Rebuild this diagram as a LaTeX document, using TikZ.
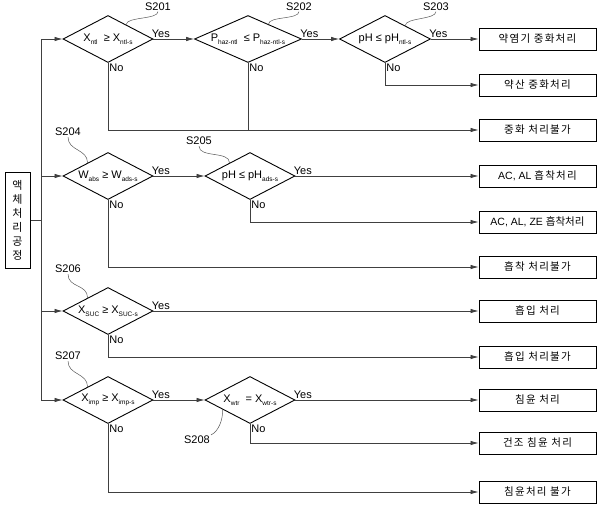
\documentclass[tikz,border=0pt]{standalone}
\usepackage{fontspec}
\setmainfont{Liberation Sans}
\newfontfamily\kr{Noto Sans CJK KR}
\newfontfamily\krwide[LetterSpace=12]{Noto Sans CJK KR}
\usetikzlibrary{shapes.geometric,arrows.meta,calc}
\newcommand{\lowtxt}[1]{\raisebox{-0.45ex}{\fontsize{6.5}{7}\selectfont #1}}
\newcommand{\dtxt}[1]{\makebox[0pt]{#1}}
\tikzset{
	decision/.style = {diamond, draw=black, line width=0.9pt, inner sep=0pt, minimum width=90pt, minimum height=47pt, font=\fontsize{11}{12}\selectfont},
	result/.style = {rectangle, draw=black, line width=1pt, minimum width=117pt, minimum height=22pt, inner sep=0pt, font=\fontsize{10.5}{12}\selectfont},
	process/.style = {rectangle, draw=black, line width=1pt, minimum width=25pt, minimum height=96pt, inner sep=0pt, align=center, font=\fontsize{11}{14}\selectfont\kr},
	flow/.style = {draw=black!75, line width=0.7pt, -{Latex[length=8pt,width=4.5pt]}},
	line/.style = {draw=black!75, line width=0.7pt},
	yeslbl/.style = {anchor=south west, inner sep=1pt, xshift=-3pt, font=\fontsize{11}{12}\selectfont},
	nolbl/.style = {anchor=north west, inner sep=1pt, font=\fontsize{11}{12}\selectfont},
	tagtxt/.style = {inner sep=1pt, font=\fontsize{11}{12}\selectfont},
	tagline/.style = {draw=black!65, line width=0.5pt}
}

\begin{document}
\begin{tikzpicture}[x=1pt, y=-1pt]
\useasboundingbox (0,0) rectangle (605,514);

% left process box and trunk
\node [process] (proc) at (17.5,220) {액\\체\\처\\리\\공\\정};
\coordinate (trunk) at (41,220);
\draw [line] (proc.east) -- (trunk);

% decisions
\node [decision] (d1) at (108,39) {\dtxt{X\lowtxt{ntl} \ ≥ X\lowtxt{ntl-s}}};
\node [decision, minimum width=107pt] (d2) at (248,39) {\dtxt{P\lowtxt{haz-ntl} \ ≤ P\lowtxt{haz-ntl-s}}};
\node [decision, minimum width=91pt] (d3) at (385,39) {\dtxt{pH ≤ pH\lowtxt{ntl-s}}};
\node [decision] (d4) at (108,176) {\dtxt{W\lowtxt{abs} ≥ W\lowtxt{ads-s}}};
\node [decision] (d5) at (250,176) {\dtxt{pH ≤ pH\lowtxt{ads-s}}};
\node [decision] (d6) at (108,311) {\dtxt{X\lowtxt{SUC} ≥ X\lowtxt{SUC-s}}};
\node [decision] (d7) at (108,400) {\dtxt{X\lowtxt{imp} ≥ X\lowtxt{imp-s}}};
\node [decision] (d8) at (250,400) {\dtxt{X\lowtxt{wtr} \ = X\lowtxt{wtr-s}}};

% results
\node [result] (r1) at (537.5,39) {\krwide 약염기 중화처리};
\node [result] (r2) at (537.5,85) {\krwide 약산 중화처리};
\node [result] (r3) at (537.5,130) {\krwide 중화 처리불가};
\node [result] (r4) at (537.5,176) {AC, AL {\krwide 흡착처리}};
\node [result] (r5) at (537.5,222) {AC, AL, ZE {\kr 흡착처리}};
\node [result] (r6) at (537.5,267) {\krwide 흡착 처리불가};
\node [result] (r7) at (537.5,311) {\krwide 흡입 처리};
\node [result] (r8) at (537.5,357) {\krwide 흡입 처리불가};
\node [result] (r9) at (537.5,400) {\krwide 침윤 처리};
\node [result] (r10) at (537.5,443) {\krwide 건조 침윤 처리};
\node [result] (r11) at (537.5,492) {\krwide 침윤처리 불가};

% trunk branches
\draw [flow] (trunk) |- (d1.west);
\draw [flow] (trunk) |- (d4.west);
\draw [flow] (trunk) |- (d6.west);
\draw [flow] (trunk) |- (d7.west);

% neutralisation
\draw [flow] (d1.east) node [yeslbl] {Yes} -- (d2.west);
\draw [flow] (d2.east) node [yeslbl] {Yes} -- (d3.west);
\draw [flow] (d3.east) node [yeslbl] {Yes} -- (r1.west);
\draw [flow] (d3.south) node [nolbl] {No} |- (r2.west);
\draw [flow] (d1.south) node [nolbl] {No} |- (r3.west);
\draw [line] (d2.south) node [nolbl] {No} -- (d2.south |- r3.west);

% adsorption
\draw [flow] (d4.east) node [yeslbl] {Yes} -- (d5.west);
\draw [flow] (d5.east) node [yeslbl] {Yes} -- (r4.west);
\draw [flow] (d5.south) node [nolbl] {No} |- (r5.west);
\draw [flow] (d4.south) node [nolbl] {No} |- (r6.west);

% suction
\draw [flow] (d6.east) node [yeslbl] {Yes} -- (r7.west);
\draw [flow] (d6.south) node [nolbl] {No} |- (r8.west);

% impregnation
\draw [flow] (d7.east) node [yeslbl] {Yes} -- (d8.west);
\draw [flow] (d8.east) node [yeslbl] {Yes} -- (r9.west);
\draw [flow] (d8.south) node [nolbl] {No} |- (r10.west);
\draw [flow] (d7.south) node [nolbl] {No} |- (r11.west);

% step tags
\node [tagtxt] (s201) at (158,6.5) {S201};
\node [tagtxt] (s202) at (299,6.5) {S202};
\node [tagtxt] (s203) at (436,6.5) {S203};
\node [tagtxt] (s204) at (68,132) {S204};
\node [tagtxt] (s205) at (199,141) {S205};
\node [tagtxt] (s206) at (68,269) {S206};
\node [tagtxt] (s207) at (68,356) {S207};
\node [tagtxt] (s208) at (197,440) {S208};
\draw [tagline] ($(d1.north)!0.4!(d1.east)$) .. controls +(0,-8) and +(0,8) .. (s201.south);
\draw [tagline] ($(d2.north)!0.38!(d2.east)$) .. controls +(0,-8) and +(0,8) .. (s202.south);
\draw [tagline] ($(d3.north)!0.44!(d3.east)$) .. controls +(0,-8) and +(0,8) .. (s203.south);
\draw [tagline] (s204.south) .. controls +(0,14) and +(0,-14) .. ($(d4.west)!0.55!(d4.north)$);
\draw [tagline] (s205.south) .. controls +(0,12) and +(0,-12) .. ($(d5.west)!0.55!(d5.north)$);
\draw [tagline] (s206.south) .. controls +(0,14) and +(0,-14) .. ($(d6.west)!0.55!(d6.north)$);
\draw [tagline] (s207.south) .. controls +(0,14) and +(0,-14) .. ($(d7.west)!0.55!(d7.north)$);
\draw [tagline] (s208.north east) .. controls +(8,-4) and +(0,10) .. ($(d8.west)!0.4!(d8.south)$);
\end{tikzpicture}
\end{document}
